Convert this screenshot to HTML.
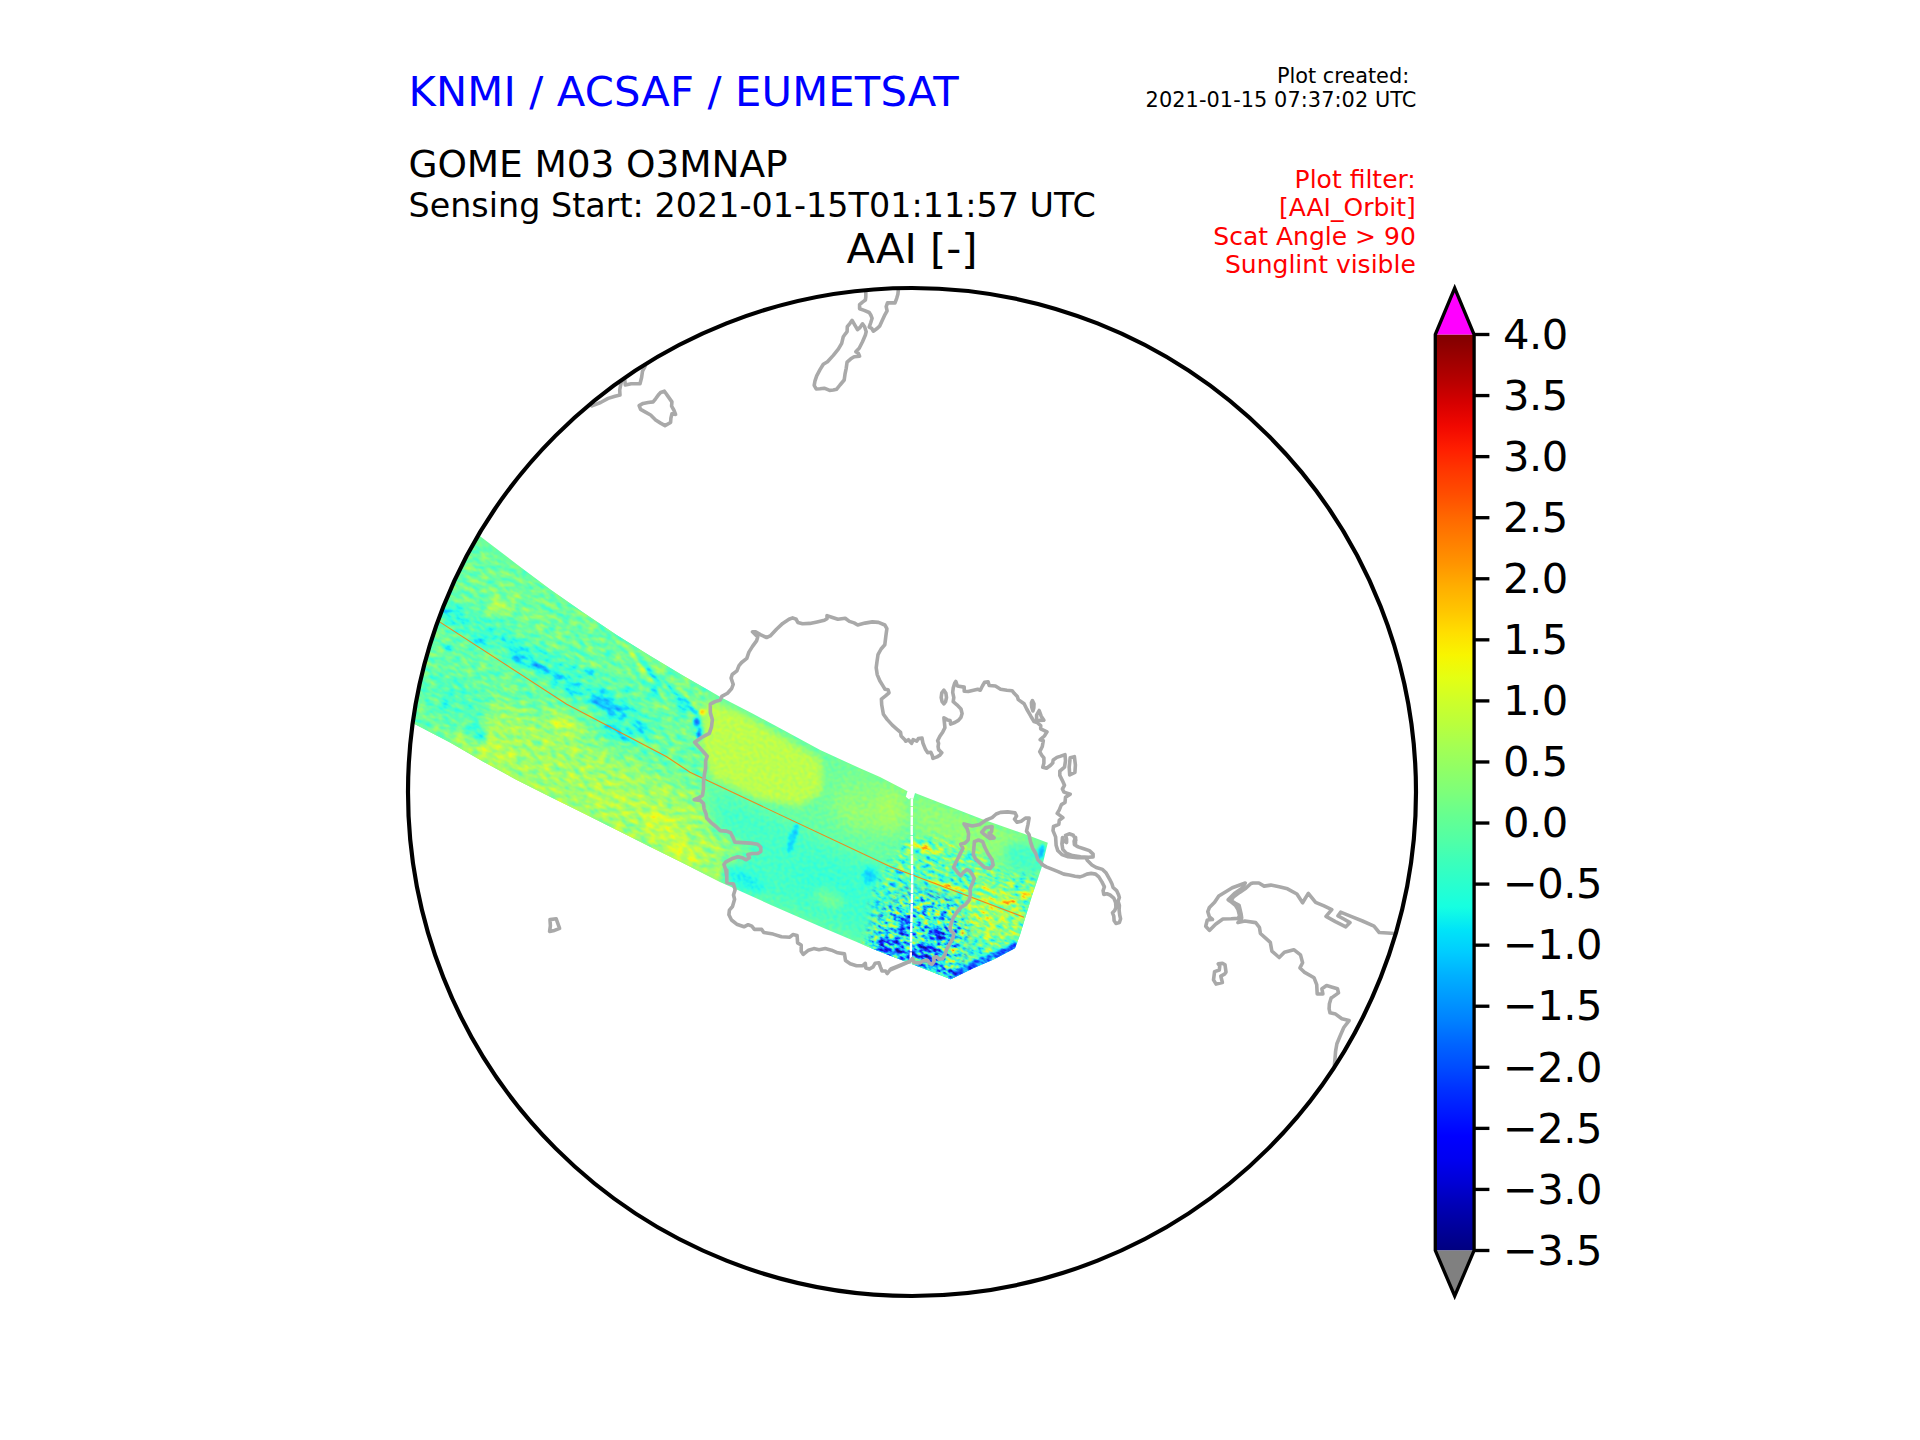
<!DOCTYPE html><html><head><meta charset="utf-8"><title>AAI plot</title>
<style>html,body{margin:0;padding:0;background:#fff}body{width:1920px;height:1440px;overflow:hidden}svg{display:block}text{font-family:"DejaVu Sans","Liberation Sans",sans-serif}</style>
</head><body>
<svg width="1920" height="1440" viewBox="0 0 1920 1440">
<defs>
<linearGradient id="jet" x1="0" y1="0" x2="0" y2="1"><stop offset="0.0000" stop-color="rgb(128,0,0)"/><stop offset="0.0250" stop-color="rgb(155,0,0)"/><stop offset="0.0500" stop-color="rgb(182,0,0)"/><stop offset="0.0750" stop-color="rgb(214,0,0)"/><stop offset="0.1000" stop-color="rgb(241,8,0)"/><stop offset="0.1250" stop-color="rgb(255,30,0)"/><stop offset="0.1500" stop-color="rgb(255,56,0)"/><stop offset="0.1750" stop-color="rgb(255,78,0)"/><stop offset="0.2000" stop-color="rgb(255,104,0)"/><stop offset="0.2250" stop-color="rgb(255,126,0)"/><stop offset="0.2500" stop-color="rgb(255,148,0)"/><stop offset="0.2750" stop-color="rgb(255,174,0)"/><stop offset="0.3000" stop-color="rgb(255,196,0)"/><stop offset="0.3250" stop-color="rgb(255,222,0)"/><stop offset="0.3500" stop-color="rgb(248,245,0)"/><stop offset="0.3750" stop-color="rgb(228,255,19)"/><stop offset="0.4000" stop-color="rgb(206,255,41)"/><stop offset="0.4250" stop-color="rgb(186,255,60)"/><stop offset="0.4500" stop-color="rgb(164,255,83)"/><stop offset="0.4750" stop-color="rgb(144,255,102)"/><stop offset="0.5000" stop-color="rgb(125,255,122)"/><stop offset="0.5250" stop-color="rgb(102,255,144)"/><stop offset="0.5500" stop-color="rgb(83,255,164)"/><stop offset="0.5750" stop-color="rgb(60,255,186)"/><stop offset="0.6000" stop-color="rgb(41,255,206)"/><stop offset="0.6250" stop-color="rgb(22,255,225)"/><stop offset="0.6500" stop-color="rgb(0,228,248)"/><stop offset="0.6750" stop-color="rgb(0,204,255)"/><stop offset="0.7000" stop-color="rgb(0,176,255)"/><stop offset="0.7250" stop-color="rgb(0,152,255)"/><stop offset="0.7500" stop-color="rgb(0,128,255)"/><stop offset="0.7750" stop-color="rgb(0,100,255)"/><stop offset="0.8000" stop-color="rgb(0,76,255)"/><stop offset="0.8250" stop-color="rgb(0,48,255)"/><stop offset="0.8500" stop-color="rgb(0,24,255)"/><stop offset="0.8750" stop-color="rgb(0,0,255)"/><stop offset="0.9000" stop-color="rgb(0,0,241)"/><stop offset="0.9250" stop-color="rgb(0,0,214)"/><stop offset="0.9500" stop-color="rgb(0,0,182)"/><stop offset="0.9750" stop-color="rgb(0,0,155)"/><stop offset="1.0000" stop-color="rgb(0,0,128)"/></linearGradient>
<clipPath id="circ"><circle cx="912" cy="792" r="504"/></clipPath>
<clipPath id="sw"><path d="M455.0,517.0 L480.8,536.7 L516.7,564.2 L550.0,589.2 L583.3,612.5 L616.7,635.0 L650.0,655.8 L683.3,675.8 L720.0,696.7 L752.5,713.5 L783.8,730.2 L820.2,750.0 L860.0,768.3 L880.0,777.1 L907.5,791.2 L905.8,796.7 L909.2,799.6 L910.0,798.3 L913.3,798.8 L915.0,793.1 L957.9,809.7 L981.7,819.0 L1023.3,833.5 L1047.8,842.8 L1042.5,865.0 L1031.7,896.7 L1020.0,935.0 L1015.0,948.3 L994.2,959.2 L973.3,968.3 L950.8,979.2 L912.5,964.2 L876.2,950.2 L824.2,928.3 L772.0,905.4 L720.0,882.0 L683.3,863.3 L650.0,846.7 L616.7,830.0 L583.3,813.3 L550.0,796.7 L516.7,780.0 L483.3,761.7 L450.0,742.5 L415.0,724.2 L395.0,713.7Z"/></clipPath>
<filter id="jfA" filterUnits="userSpaceOnUse" x="-200" y="-200" width="2400" height="2000" color-interpolation-filters="sRGB"><feTurbulence type="fractalNoise" baseFrequency="0.25 0.3" numOctaves="1" seed="7" result="n"/><feColorMatrix in="n" type="matrix" values="1 0 0 0 0 1 0 0 0 0 1 0 0 0 0 0 0 0 0 1" result="g"/><feComposite in="SourceGraphic" in2="g" operator="arithmetic" k1="0" k2="1" k3="0.100" k4="-0.050" result="v"/><feComponentTransfer in="v"><feFuncR type="table" tableValues="0.080 0.080 0.080 0.080 0.080 0.080 0.080 0.080 0.080 0.080 0.080 0.080 0.080 0.080 0.080 0.080 0.080 0.080 0.080 0.080 0.080 0.080 0.080 0.124 0.170 0.217 0.263 0.310 0.356 0.403 0.450 0.496 0.554 0.601 0.647 0.694 0.740 0.787 0.834 0.880 0.927 0.973 1.000 1.000 1.000 1.000 1.000 1.000 1.000 1.000 1.000 1.000 1.000 1.000 1.000 1.000 0.999 0.934 0.868 0.802 0.737 0.671 0.606 0.540"/><feFuncG type="table" tableValues="0.080 0.080 0.080 0.080 0.080 0.080 0.080 0.080 0.082 0.140 0.197 0.255 0.313 0.370 0.428 0.486 0.558 0.616 0.673 0.731 0.789 0.847 0.904 0.962 1.000 1.000 1.000 1.000 1.000 1.000 1.000 1.000 1.000 1.000 1.000 1.000 1.000 1.000 1.000 1.000 1.000 0.963 0.909 0.856 0.802 0.749 0.695 0.642 0.575 0.522 0.468 0.415 0.361 0.308 0.254 0.201 0.147 0.094 0.080 0.080 0.080 0.080 0.080 0.080"/><feFuncB type="table" tableValues="0.540 0.606 0.671 0.737 0.802 0.868 0.934 0.999 1.000 1.000 1.000 1.000 1.000 1.000 1.000 1.000 1.000 1.000 1.000 1.000 1.000 1.000 0.973 0.927 0.880 0.834 0.787 0.740 0.694 0.647 0.601 0.554 0.496 0.450 0.403 0.356 0.310 0.263 0.217 0.170 0.124 0.080 0.080 0.080 0.080 0.080 0.080 0.080 0.080 0.080 0.080 0.080 0.080 0.080 0.080 0.080 0.080 0.080 0.080 0.080 0.080 0.080 0.080 0.080"/></feComponentTransfer><feComposite in2="SourceGraphic" operator="in"/></filter>
<filter id="jfB" filterUnits="userSpaceOnUse" x="-200" y="-200" width="2400" height="2000" color-interpolation-filters="sRGB"><feTurbulence type="fractalNoise" baseFrequency="0.11 0.2" numOctaves="2" seed="11" result="n"/><feColorMatrix in="n" type="matrix" values="1 0 0 0 0 1 0 0 0 0 1 0 0 0 0 0 0 0 0 1" result="g"/><feComposite in="SourceGraphic" in2="g" operator="arithmetic" k1="0" k2="1" k3="0.250" k4="-0.125" result="v"/><feComponentTransfer in="v"><feFuncR type="table" tableValues="0.080 0.080 0.080 0.080 0.080 0.080 0.080 0.080 0.080 0.080 0.080 0.080 0.080 0.080 0.080 0.080 0.080 0.080 0.080 0.080 0.080 0.080 0.080 0.124 0.170 0.217 0.263 0.310 0.356 0.403 0.450 0.496 0.554 0.601 0.647 0.694 0.740 0.787 0.834 0.880 0.927 0.973 1.000 1.000 1.000 1.000 1.000 1.000 1.000 1.000 1.000 1.000 1.000 1.000 1.000 1.000 0.999 0.934 0.868 0.802 0.737 0.671 0.606 0.540"/><feFuncG type="table" tableValues="0.080 0.080 0.080 0.080 0.080 0.080 0.080 0.080 0.082 0.140 0.197 0.255 0.313 0.370 0.428 0.486 0.558 0.616 0.673 0.731 0.789 0.847 0.904 0.962 1.000 1.000 1.000 1.000 1.000 1.000 1.000 1.000 1.000 1.000 1.000 1.000 1.000 1.000 1.000 1.000 1.000 0.963 0.909 0.856 0.802 0.749 0.695 0.642 0.575 0.522 0.468 0.415 0.361 0.308 0.254 0.201 0.147 0.094 0.080 0.080 0.080 0.080 0.080 0.080"/><feFuncB type="table" tableValues="0.540 0.606 0.671 0.737 0.802 0.868 0.934 0.999 1.000 1.000 1.000 1.000 1.000 1.000 1.000 1.000 1.000 1.000 1.000 1.000 1.000 1.000 0.973 0.927 0.880 0.834 0.787 0.740 0.694 0.647 0.601 0.554 0.496 0.450 0.403 0.356 0.310 0.263 0.217 0.170 0.124 0.080 0.080 0.080 0.080 0.080 0.080 0.080 0.080 0.080 0.080 0.080 0.080 0.080 0.080 0.080 0.080 0.080 0.080 0.080 0.080 0.080 0.080 0.080"/></feComponentTransfer><feComposite in2="SourceGraphic" operator="in"/></filter>
<filter id="jfC" filterUnits="userSpaceOnUse" x="-200" y="-200" width="2400" height="2000" color-interpolation-filters="sRGB"><feTurbulence type="fractalNoise" baseFrequency="0.14 0.28" numOctaves="2" seed="5" result="n"/><feColorMatrix in="n" type="matrix" values="1 0 0 0 0 1 0 0 0 0 1 0 0 0 0 0 0 0 0 1" result="g"/><feComposite in="SourceGraphic" in2="g" operator="arithmetic" k1="0" k2="1" k3="0.550" k4="-0.275" result="v"/><feComponentTransfer in="v"><feFuncR type="table" tableValues="0.080 0.080 0.080 0.080 0.080 0.080 0.080 0.080 0.080 0.080 0.080 0.080 0.080 0.080 0.080 0.080 0.080 0.080 0.080 0.080 0.080 0.080 0.080 0.124 0.170 0.217 0.263 0.310 0.356 0.403 0.450 0.496 0.554 0.601 0.647 0.694 0.740 0.787 0.834 0.880 0.927 0.973 1.000 1.000 1.000 1.000 1.000 1.000 1.000 1.000 1.000 1.000 1.000 1.000 1.000 1.000 0.999 0.934 0.868 0.802 0.737 0.671 0.606 0.540"/><feFuncG type="table" tableValues="0.080 0.080 0.080 0.080 0.080 0.080 0.080 0.080 0.082 0.140 0.197 0.255 0.313 0.370 0.428 0.486 0.558 0.616 0.673 0.731 0.789 0.847 0.904 0.962 1.000 1.000 1.000 1.000 1.000 1.000 1.000 1.000 1.000 1.000 1.000 1.000 1.000 1.000 1.000 1.000 1.000 0.963 0.909 0.856 0.802 0.749 0.695 0.642 0.575 0.522 0.468 0.415 0.361 0.308 0.254 0.201 0.147 0.094 0.080 0.080 0.080 0.080 0.080 0.080"/><feFuncB type="table" tableValues="0.540 0.606 0.671 0.737 0.802 0.868 0.934 0.999 1.000 1.000 1.000 1.000 1.000 1.000 1.000 1.000 1.000 1.000 1.000 1.000 1.000 1.000 0.973 0.927 0.880 0.834 0.787 0.740 0.694 0.647 0.601 0.554 0.496 0.450 0.403 0.356 0.310 0.263 0.217 0.170 0.124 0.080 0.080 0.080 0.080 0.080 0.080 0.080 0.080 0.080 0.080 0.080 0.080 0.080 0.080 0.080 0.080 0.080 0.080 0.080 0.080 0.080 0.080 0.080"/></feComponentTransfer><feComposite in2="SourceGraphic" operator="in"/></filter>
<filter id="jfD" filterUnits="userSpaceOnUse" x="-200" y="-200" width="2400" height="2000" color-interpolation-filters="sRGB"><feTurbulence type="fractalNoise" baseFrequency="0.16 0.3" numOctaves="2" seed="9" result="n"/><feColorMatrix in="n" type="matrix" values="1 0 0 0 0 1 0 0 0 0 1 0 0 0 0 0 0 0 0 1" result="g"/><feComposite in="SourceGraphic" in2="g" operator="arithmetic" k1="0" k2="1" k3="1.000" k4="-0.500" result="v"/><feComponentTransfer in="v"><feFuncR type="table" tableValues="0.080 0.080 0.080 0.080 0.080 0.080 0.080 0.080 0.080 0.080 0.080 0.080 0.080 0.080 0.080 0.080 0.080 0.080 0.080 0.080 0.080 0.080 0.080 0.124 0.170 0.217 0.263 0.310 0.356 0.403 0.450 0.496 0.554 0.601 0.647 0.694 0.740 0.787 0.834 0.880 0.927 0.973 1.000 1.000 1.000 1.000 1.000 1.000 1.000 1.000 1.000 1.000 1.000 1.000 1.000 1.000 0.999 0.934 0.868 0.802 0.737 0.671 0.606 0.540"/><feFuncG type="table" tableValues="0.080 0.080 0.080 0.080 0.080 0.080 0.080 0.080 0.082 0.140 0.197 0.255 0.313 0.370 0.428 0.486 0.558 0.616 0.673 0.731 0.789 0.847 0.904 0.962 1.000 1.000 1.000 1.000 1.000 1.000 1.000 1.000 1.000 1.000 1.000 1.000 1.000 1.000 1.000 1.000 1.000 0.963 0.909 0.856 0.802 0.749 0.695 0.642 0.575 0.522 0.468 0.415 0.361 0.308 0.254 0.201 0.147 0.094 0.080 0.080 0.080 0.080 0.080 0.080"/><feFuncB type="table" tableValues="0.540 0.606 0.671 0.737 0.802 0.868 0.934 0.999 1.000 1.000 1.000 1.000 1.000 1.000 1.000 1.000 1.000 1.000 1.000 1.000 1.000 1.000 0.973 0.927 0.880 0.834 0.787 0.740 0.694 0.647 0.601 0.554 0.496 0.450 0.403 0.356 0.310 0.263 0.217 0.170 0.124 0.080 0.080 0.080 0.080 0.080 0.080 0.080 0.080 0.080 0.080 0.080 0.080 0.080 0.080 0.080 0.080 0.080 0.080 0.080 0.080 0.080 0.080 0.080"/></feComponentTransfer><feComposite in2="SourceGraphic" operator="in"/></filter>
<filter id="b1_5" x="-60%" y="-60%" width="220%" height="220%"><feGaussianBlur stdDeviation="1.5"/></filter>
<filter id="b3" x="-60%" y="-60%" width="220%" height="220%"><feGaussianBlur stdDeviation="3"/></filter>
<filter id="b5" x="-60%" y="-60%" width="220%" height="220%"><feGaussianBlur stdDeviation="5"/></filter>
<filter id="b8" x="-60%" y="-60%" width="220%" height="220%"><feGaussianBlur stdDeviation="8"/></filter>
<filter id="b14" x="-60%" y="-60%" width="220%" height="220%"><feGaussianBlur stdDeviation="14"/></filter>
<g id="fld">
<rect x="300" y="400" width="900" height="700" fill="#777777"/>
<path d="M440.0,735.0 L500.0,700.0 L600.0,748.0 L700.0,795.0 L716.0,830.0 L756.0,852.0 L724.0,868.0 L727.0,890.0 L600.0,840.0 L470.0,775.0 Z" fill="#888888" filter="url(#b8)" opacity="1.00"/>
<ellipse cx="662.0" cy="824.0" rx="22.0" ry="12.0" transform="rotate(27 662.0 824.0)" fill="#999999" filter="url(#b5)" opacity="1.00"/>
<ellipse cx="683.0" cy="851.0" rx="16.0" ry="9.0" transform="rotate(27 683.0 851.0)" fill="#9c9c9c" filter="url(#b5)" opacity="1.00"/>
<ellipse cx="564.0" cy="724.0" rx="18.0" ry="9.0" transform="rotate(27 564.0 724.0)" fill="#979797" filter="url(#b5)" opacity="1.00"/>
<ellipse cx="497.0" cy="750.0" rx="20.0" ry="8.0" transform="rotate(27 497.0 750.0)" fill="#949494" filter="url(#b5)" opacity="1.00"/>
<ellipse cx="620.0" cy="800.0" rx="30.0" ry="10.0" transform="rotate(27 620.0 800.0)" fill="#909090" filter="url(#b8)" opacity="1.00"/>
<ellipse cx="455.0" cy="700.0" rx="35.0" ry="22.0" transform="rotate(30 455.0 700.0)" fill="#6d6d6d" filter="url(#b8)" opacity="1.00"/>
<ellipse cx="475.0" cy="733.0" rx="14.0" ry="7.0" transform="rotate(27 475.0 733.0)" fill="#636363" filter="url(#b3)" opacity="1.00"/>
<ellipse cx="565.0" cy="676.0" rx="100.0" ry="11.0" transform="rotate(30 565.0 676.0)" fill="#646464" filter="url(#b8)" opacity="1.00"/>
<ellipse cx="455.0" cy="617.0" rx="18.0" ry="6.0" transform="rotate(30 455.0 617.0)" fill="#535353" filter="url(#b3)" opacity="1.00"/>
<ellipse cx="520.0" cy="657.0" rx="12.0" ry="6.0" transform="rotate(30 520.0 657.0)" fill="#525252" filter="url(#b3)" opacity="1.00"/>
<ellipse cx="611.0" cy="707.0" rx="22.0" ry="8.0" transform="rotate(30 611.0 707.0)" fill="#535353" filter="url(#b3)" opacity="1.00"/>
<ellipse cx="618.0" cy="733.0" rx="18.0" ry="7.0" transform="rotate(25 618.0 733.0)" fill="#5a5a5a" filter="url(#b3)" opacity="1.00"/>
<ellipse cx="573.0" cy="688.0" rx="8.0" ry="5.0" transform="rotate(30 573.0 688.0)" fill="#525252" filter="url(#b3)" opacity="1.00"/>
<ellipse cx="640.0" cy="728.0" rx="12.0" ry="6.0" transform="rotate(30 640.0 728.0)" fill="#585858" filter="url(#b3)" opacity="1.00"/>
<ellipse cx="520.0" cy="605.0" rx="60.0" ry="12.0" transform="rotate(35 520.0 605.0)" fill="#7c7c7c" filter="url(#b8)" opacity="1.00"/>
<ellipse cx="498.4" cy="607.5" rx="7.0" ry="6.0" transform="rotate(0 498.4 607.5)" fill="#9c9c9c" filter="url(#b3)" opacity="1.00"/>
<ellipse cx="640.0" cy="665.0" rx="22.0" ry="2.2" transform="rotate(52 640.0 665.0)" fill="#969696" filter="url(#b1_5)" opacity="1.00"/>
<ellipse cx="650.0" cy="672.0" rx="22.0" ry="2.2" transform="rotate(52 650.0 672.0)" fill="#555555" filter="url(#b1_5)" opacity="1.00"/>
<ellipse cx="662.0" cy="676.0" rx="22.0" ry="2.2" transform="rotate(52 662.0 676.0)" fill="#929292" filter="url(#b1_5)" opacity="1.00"/>
<ellipse cx="672.0" cy="690.0" rx="22.0" ry="2.2" transform="rotate(52 672.0 690.0)" fill="#525252" filter="url(#b1_5)" opacity="1.00"/>
<ellipse cx="684.0" cy="694.0" rx="22.0" ry="2.2" transform="rotate(52 684.0 694.0)" fill="#969696" filter="url(#b1_5)" opacity="1.00"/>
<ellipse cx="692.0" cy="708.0" rx="22.0" ry="2.2" transform="rotate(52 692.0 708.0)" fill="#585858" filter="url(#b1_5)" opacity="1.00"/>
<ellipse cx="703.0" cy="713.0" rx="4.0" ry="3.0" transform="rotate(0 703.0 713.0)" fill="#c2c2c2" filter="url(#b1_5)" opacity="1.00"/>
<ellipse cx="701.0" cy="733.0" rx="4.0" ry="7.0" transform="rotate(10 701.0 733.0)" fill="#252525" filter="url(#b1_5)" opacity="1.00"/>
<ellipse cx="697.0" cy="722.0" rx="4.0" ry="4.0" transform="rotate(0 697.0 722.0)" fill="#414141" filter="url(#b1_5)" opacity="1.00"/>
<path d="M706.0,700.0 L740.0,712.0 L822.0,760.0 L823.0,792.0 L800.0,806.0 L760.0,800.0 L712.0,778.0 L700.0,740.0 Z" fill="#929292" filter="url(#b3)" opacity="1.00"/>
<ellipse cx="860.0" cy="810.0" rx="24.0" ry="16.0" transform="rotate(25 860.0 810.0)" fill="#8a8a8a" filter="url(#b8)" opacity="1.00"/>
<ellipse cx="870.0" cy="800.0" rx="40.0" ry="22.0" transform="rotate(25 870.0 800.0)" fill="#818181" filter="url(#b14)" opacity="1.00"/>
<path d="M712.0,790.0 L790.0,825.0 L880.0,868.0 L905.0,880.0 L905.0,955.0 L830.0,925.0 L735.0,885.0 L726.0,866.0 L756.0,852.0 L716.0,828.0 Z" fill="#6b6b6b" filter="url(#b8)" opacity="1.00"/>
<ellipse cx="830.0" cy="885.0" rx="40.0" ry="18.0" transform="rotate(25 830.0 885.0)" fill="#666666" filter="url(#b8)" opacity="1.00"/>
<ellipse cx="829.0" cy="899.0" rx="16.0" ry="8.0" transform="rotate(25 829.0 899.0)" fill="#7a7a7a" filter="url(#b5)" opacity="1.00"/>
<ellipse cx="793.0" cy="838.0" rx="4.0" ry="16.0" transform="rotate(18 793.0 838.0)" fill="#555555" filter="url(#b1_5)" opacity="1.00"/>
<ellipse cx="870.0" cy="876.0" rx="7.0" ry="9.0" transform="rotate(0 870.0 876.0)" fill="#4e4e4e" filter="url(#b3)" opacity="1.00"/>
<ellipse cx="745.0" cy="880.0" rx="22.0" ry="8.0" transform="rotate(25 745.0 880.0)" fill="#5c5c5c" filter="url(#b5)" opacity="1.00"/>
<path d="M915.0,795.0 L1047.0,845.0 L1040.0,870.0 L960.0,850.0 L915.0,830.0 Z" fill="#838383" filter="url(#b5)" opacity="1.00"/>
<ellipse cx="1025.0" cy="858.0" rx="22.0" ry="14.0" transform="rotate(20 1025.0 858.0)" fill="#6b6b6b" filter="url(#b5)" opacity="1.00"/>
<ellipse cx="1041.0" cy="852.0" rx="3.5" ry="8.0" transform="rotate(15 1041.0 852.0)" fill="#4e4e4e" filter="url(#b1_5)" opacity="1.00"/>
<ellipse cx="890.0" cy="810.0" rx="14.0" ry="22.0" transform="rotate(0 890.0 810.0)" fill="#8b8b8b" filter="url(#b8)" opacity="1.00"/>
<ellipse cx="940.0" cy="915.0" rx="70.0" ry="40.0" transform="rotate(20 940.0 915.0)" fill="#696969" filter="url(#b14)" opacity="1.00"/>
<ellipse cx="992.0" cy="912.0" rx="28.0" ry="30.0" transform="rotate(15 992.0 912.0)" fill="#8a8a8a" filter="url(#b8)" opacity="1.00"/>
<ellipse cx="893.0" cy="950.0" rx="16.0" ry="8.0" transform="rotate(20 893.0 950.0)" fill="#333333" filter="url(#b3)" opacity="1.00"/>
<ellipse cx="927.0" cy="952.0" rx="14.0" ry="7.0" transform="rotate(15 927.0 952.0)" fill="#252525" filter="url(#b3)" opacity="1.00"/>
<ellipse cx="940.0" cy="935.0" rx="14.0" ry="6.0" transform="rotate(15 940.0 935.0)" fill="#2c2c2c" filter="url(#b3)" opacity="1.00"/>
<ellipse cx="905.0" cy="925.0" rx="8.0" ry="14.0" transform="rotate(15 905.0 925.0)" fill="#414141" filter="url(#b3)" opacity="1.00"/>
<path d="M948.0,982.0 L1018.0,948.0 L1015.0,942.0 L946.0,974.0 Z" fill="#252525" filter="url(#b1_5)" opacity="0.80"/>
<path d="M875.0,944.0 L912.0,960.0 L950.0,978.0 L948.0,968.0 L912.0,950.0 L878.0,934.0 Z" fill="#3a3a3a" filter="url(#b3)" opacity="1.00"/>
<ellipse cx="947.0" cy="886.0" rx="22.0" ry="1.8" transform="rotate(18 947.0 886.0)" fill="#c2c2c2" filter="url(#b1_5)" opacity="1.00"/>
<ellipse cx="1027.0" cy="895.5" rx="4.0" ry="3.0" transform="rotate(0 1027.0 895.5)" fill="#c2c2c2" filter="url(#b1_5)" opacity="1.00"/>
<ellipse cx="1008.0" cy="902.0" rx="9.0" ry="1.6" transform="rotate(-10 1008.0 902.0)" fill="#bbbbbb" filter="url(#b1_5)" opacity="1.00"/>
<ellipse cx="925.0" cy="848.0" rx="16.0" ry="2.0" transform="rotate(15 925.0 848.0)" fill="#b4b4b4" filter="url(#b1_5)" opacity="1.00"/>
<ellipse cx="472.0" cy="626.0" rx="30.0" ry="12.0" transform="rotate(30 472.0 626.0)" fill="#686868" filter="url(#b8)" opacity="1.00"/>
<ellipse cx="481.0" cy="643.0" rx="7.0" ry="4.0" transform="rotate(30 481.0 643.0)" fill="#525252" filter="url(#b1_5)" opacity="1.00"/>
<ellipse cx="540.0" cy="668.0" rx="10.0" ry="4.0" transform="rotate(30 540.0 668.0)" fill="#525252" filter="url(#b1_5)" opacity="1.00"/>
<ellipse cx="557.0" cy="677.0" rx="6.0" ry="4.0" transform="rotate(30 557.0 677.0)" fill="#555555" filter="url(#b1_5)" opacity="1.00"/>
<ellipse cx="598.0" cy="701.0" rx="8.0" ry="4.0" transform="rotate(30 598.0 701.0)" fill="#525252" filter="url(#b1_5)" opacity="1.00"/>
<ellipse cx="655.0" cy="692.0" rx="8.0" ry="3.5" transform="rotate(50 655.0 692.0)" fill="#585858" filter="url(#b1_5)" opacity="1.00"/>
<ellipse cx="682.0" cy="708.0" rx="8.0" ry="3.5" transform="rotate(50 682.0 708.0)" fill="#555555" filter="url(#b1_5)" opacity="1.00"/>
<ellipse cx="447.0" cy="648.0" rx="6.0" ry="3.0" transform="rotate(30 447.0 648.0)" fill="#585858" filter="url(#b1_5)" opacity="1.00"/>
<ellipse cx="505.0" cy="640.0" rx="6.0" ry="3.0" transform="rotate(60 505.0 640.0)" fill="#585858" filter="url(#b1_5)" opacity="1.00"/>
<ellipse cx="590.0" cy="672.0" rx="6.0" ry="3.0" transform="rotate(30 590.0 672.0)" fill="#5c5c5c" filter="url(#b1_5)" opacity="1.00"/>
<ellipse cx="628.0" cy="690.0" rx="5.0" ry="3.0" transform="rotate(30 628.0 690.0)" fill="#585858" filter="url(#b1_5)" opacity="1.00"/>
</g>
<mask id="mB" maskUnits="userSpaceOnUse" x="300" y="400" width="900" height="700"><path d="M380,480 L712,690 L706,705 L703,735 L695,742 L708,760 L703,790 L696,800 L706,815 L716,828 L736,842 L758,852 L724,866 L727,884 L380,760 Z" fill="#fff" filter="url(#b3)"/></mask>
<mask id="mC" maskUnits="userSpaceOnUse" x="300" y="400" width="900" height="700"><path d="M872,900 L885,868 L905,840 L935,835 L975,850 L1005,870 L1050,880 L1030,960 L950,990 L865,960 Z" fill="#fff" filter="url(#b5)"/></mask>
<mask id="mD" maskUnits="userSpaceOnUse" x="300" y="400" width="900" height="700"><path d="M870,930 L885,905 L912,888 L950,898 L968,925 L965,958 L950,995 L860,960 Z" fill="#fff" filter="url(#b5)"/></mask>
</defs>
<rect width="1920" height="1440" fill="#fff"/>
<g clip-path="url(#circ)">
<g clip-path="url(#sw)">
<g><g transform="rotate(25 700 750)" filter="url(#jfA)"><g transform="rotate(-25 700 750)"><use href="#fld"/></g></g></g>
<g mask="url(#mB)"><g transform="rotate(25 700 750)" filter="url(#jfB)"><g transform="rotate(-25 700 750)"><use href="#fld"/></g></g></g>
<g mask="url(#mC)"><g transform="rotate(25 700 750)" filter="url(#jfC)"><g transform="rotate(-25 700 750)"><use href="#fld"/></g></g></g>
<g mask="url(#mD)"><g transform="rotate(25 700 750)" filter="url(#jfD)"><g transform="rotate(-25 700 750)"><use href="#fld"/></g></g></g>
<path d="M440,622.1 L566.7,704.2 L666.7,756.7 L690,772.3 L890,866.6 L1024,917.2" fill="none" stroke="#ff7a0a" stroke-width="1.1" opacity="0.9"/>
<path d="M911.9,797 L911.7,830 L912.2,880 L910.6,966" fill="none" stroke="#fff" stroke-width="2.4" stroke-dasharray="9 0.7"/>
</g>
<g fill="none" stroke="#a9a9a9" stroke-width="3.6" stroke-linejoin="round" stroke-linecap="round">
<path d="M852.1,320.4 L855.0,325.4 L857.5,329.6 L860.0,327.5 L862.5,323.8 L864.6,326.7 L866.2,331.7 L865.4,335.0 L862.5,341.7 L859.2,348.3 L855.8,351.7 L858.3,353.3 L859.6,356.2 L854.2,356.7 L850.8,358.8 L847.1,362.1 L846.2,368.3 L845.0,374.2 L844.2,380.0 L840.0,385.0 L836.7,389.2 L833.3,390.0 L829.6,390.4 L826.7,389.2 L824.2,388.2 L820.0,388.8 L816.2,389.0 L814.2,385.4 L815.0,380.8 L816.7,375.8 L820.0,369.6 L823.3,364.2 L827.5,361.7 L833.3,355.4 L838.3,349.2 L841.7,343.3 L843.3,336.7 L845.4,333.8 L847.1,331.7 L847.3,326.7 L850.0,323.3Z"/>
<path d="M865.8,290.0 L865.8,296.7 L865.4,300.0 L862.5,302.1 L859.6,304.6 L859.6,308.8 L864.2,310.4 L869.2,312.5 L870.8,315.0 L872.1,318.3 L870.8,322.5 L869.2,327.1 L871.7,328.3 L873.3,331.2 L876.7,328.8 L879.6,326.2 L882.1,320.8 L885.0,314.6 L887.1,310.8 L886.2,306.7 L887.5,302.9 L891.7,302.9 L895.0,302.9 L896.7,298.3 L897.9,294.2 L898.5,288.3"/>
<path d="M591.9,405.9 L600.6,402.5 L608.1,398.4 L615.0,396.2 L620.0,395.0 L619.7,390.0 L620.9,383.8 L621.6,381.2"/>
<path d="M624.7,379.4 L625.3,385.0 L631.2,383.8 L640.0,383.8 L641.6,377.5 L642.5,371.2 L645.3,365.9"/>
<path d="M664.4,391.2 L667.5,395.6 L671.9,401.9 L671.6,406.2 L673.8,410.0 L675.6,414.4 L671.9,413.8 L670.9,418.1 L670.6,422.5 L665.0,425.6 L660.6,423.1 L655.6,420.0 L650.6,415.0 L645.0,411.9 L640.6,409.4 L639.1,405.6 L643.1,403.4 L648.1,402.5 L653.1,401.9 L655.6,398.8 L658.8,394.4 L660.6,392.5Z"/>
<path d="M694.7,742.2 L701.5,737.5 L709.3,733.3 L711.4,727.1 L712.4,719.8 L710.3,712.5 L710.3,704.2 L715.0,701.6 L720.2,700.0 L721.8,696.4 L727.5,693.2 L731.7,688.5 L733.2,684.4 L731.1,678.1 L732.2,674.5 L736.9,670.8 L739.0,665.6 L741.6,662.5 L746.8,658.3 L748.9,652.1 L752.5,646.4 L756.7,640.6 L757.7,637.0 L752.5,631.8 L755.6,631.8 L760.8,634.9 L766.6,637.5 L770.2,635.9 L776.5,629.2 L782.7,623.4 L789.0,619.3 L792.6,617.9 L796.2,619.3 L797.8,622.4 L802.5,623.8 L809.8,623.4 L817.1,621.9 L824.4,620.3 L827.0,618.8 L827.0,615.6 L831.7,617.2 L837.9,619.3 L845.2,618.2 L849.4,621.4 L854.1,622.9 L857.7,625.0 L865.0,623.1 L872.3,621.9 L878.5,622.4 L884.8,625.0 L886.9,628.6 L885.8,636.5 L884.8,644.8 L881.1,649.0 L878.0,654.7 L877.0,661.5 L876.2,667.7 L877.2,674.6 L879.8,680.8 L883.4,686.6 L885.0,689.2 L888.1,689.7 L889.0,692.8 L885.5,695.9 L881.4,699.1 L881.7,704.8 L883.4,714.2 L887.1,719.4 L892.3,725.1 L896.5,728.8 L900.6,732.4 L901.1,736.0 L904.8,739.7 L905.8,741.2 L908.4,739.7 L911.6,743.3 L913.1,739.7 L916.8,741.2 L918.3,738.6 L922.0,738.1 L923.0,743.3 L925.6,749.6 L927.7,752.7 L930.8,752.2 L932.4,755.8 L932.9,758.4 L937.1,756.9 L939.7,755.3 L941.8,752.7 L938.6,749.6 L938.1,746.5 L938.6,743.3 L937.6,740.7 L939.7,736.6 L942.8,731.9 L944.9,727.7 L944.4,722.5 L943.9,717.8 L947.5,719.9 L950.1,720.4 L950.6,724.1 L954.8,722.5 L958.4,720.4 L961.0,717.3 L962.1,713.6 L961.0,709.0 L956.9,704.8 L953.2,701.7 L953.8,697.5 L952.7,692.3 L953.2,688.1 L954.8,682.9 L955.8,681.4 L957.4,686.0 L964.2,687.1 L964.2,691.2 L968.3,691.5 L973.5,690.2 L977.7,689.2 L980.3,690.2 L982.4,686.0 L984.5,682.4 L988.1,681.9 L989.2,685.5 L995.4,686.0 L1000.6,689.2 L1006.9,690.2 L1012.1,690.7 L1014.2,693.3 L1017.3,696.5 L1018.3,699.6 L1024.1,703.8 L1026.7,709.0 L1030.8,716.2 L1034.0,721.5 L1037.1,722.5 L1040.7,725.6 L1040.7,728.8 L1047.0,731.9 L1044.4,736.0 L1040.2,739.7 L1043.3,740.7 L1042.3,746.5 L1039.7,751.7 L1041.8,755.3 L1043.9,757.9 L1043.9,763.1 L1042.8,767.3 L1046.5,768.3 L1050.6,765.2 L1052.7,763.1 L1053.2,760.0 L1056.9,757.4 L1060.0,756.4 L1065.0,754.6 L1065.5,760.8 L1064.5,767.1 L1059.8,771.2 L1059.8,775.4 L1062.4,780.6 L1064.5,785.3 L1062.4,789.0 L1064.0,792.1 L1070.2,794.2 L1065.5,797.3 L1065.0,802.5 L1061.4,804.6 L1059.3,809.8 L1057.2,813.4 L1062.9,817.6 L1059.3,820.2 L1058.8,824.4 L1053.5,826.5 L1053.0,830.6 L1055.6,836.9 L1056.1,845.2 L1057.7,850.4 L1061.9,854.6 L1068.1,856.7 L1077.5,857.7 L1085.8,857.7 L1087.5,860.6 L1091.9,865.0 L1096.2,867.5 L1102.5,869.4 L1106.2,873.1 L1109.4,878.8 L1111.9,883.8 L1113.1,887.5 L1116.6,890.6 L1118.4,894.4 L1119.4,897.5 L1118.1,901.2 L1119.4,905.6 L1119.1,910.0 L1119.7,915.0 L1120.6,918.8 L1119.4,922.5 L1115.9,923.4 L1114.1,920.6 L1113.8,916.2 L1112.5,912.8 L1114.7,910.6 L1115.9,907.5 L1115.6,902.5 L1113.8,898.1 L1110.0,895.0 L1106.9,893.8 L1103.8,894.4 L1103.1,890.6 L1104.4,886.9 L1101.9,881.9 L1098.8,876.9 L1095.6,874.1 L1091.2,873.4 L1086.9,874.1 L1083.1,875.9 L1080.0,876.9 L1075.0,876.2 L1069.4,875.0 L1063.8,874.1 L1058.1,871.6 L1052.5,869.4 L1046.2,866.9 L1041.9,864.4 L1043.1,865.0 L1037.9,859.8 L1035.8,853.5 L1032.7,848.3 L1030.6,842.1 L1029.1,834.8 L1026.5,831.1 L1028.0,824.4 L1029.1,818.1 L1025.4,818.1 L1021.2,821.2 L1017.1,822.3 L1014.5,819.2 L1016.6,816.0 L1015.0,812.9 L1007.7,811.9 L1000.4,812.4 L996.2,814.0 L992.1,817.6 L985.8,820.2 L979.6,824.4 L972.3,825.9 L964.0,823.9 L967.1,828.5 L968.6,833.8 L968.1,840.0 L965.0,843.1 L960.8,844.2 L962.9,848.3 L959.8,854.6 L956.7,860.8 L953.5,867.6 L955.8,870.0 L958.3,873.3 L960.8,875.8 L963.3,872.5 L966.7,869.6 L969.2,870.4 L972.1,874.2 L974.2,878.3 L972.5,883.3 L970.0,889.2 L970.4,895.0 L969.2,900.0 L965.8,904.2 L960.8,907.5 L956.7,912.5 L953.3,917.5 L951.2,923.3 L950.0,927.5 L950.8,930.8 L953.8,933.3 L952.9,938.3 L950.0,943.3 L946.7,949.2 L945.0,954.2 L942.5,958.8 L939.2,959.2 L936.7,956.7 L933.8,957.5 L934.2,961.2 L932.1,964.2 L929.6,963.3 L927.5,960.4 L923.3,960.8 L920.0,962.9 L914.2,962.5 L912.5,958.3 L910.8,960.8 L900.8,965.0 L890.0,970.0 L909.6,961.7 L903.3,963.8 L897.1,966.4 L890.8,969.0 L887.2,973.6 L885.6,971.0 L882.0,971.0 L880.4,966.9 L878.9,962.7 L875.2,963.2 L873.1,966.9 L869.5,969.0 L865.8,967.9 L865.3,963.2 L862.7,965.8 L856.5,965.8 L850.2,963.8 L845.5,960.6 L844.5,953.9 L837.7,952.8 L831.5,950.2 L825.2,948.6 L819.0,949.7 L813.8,948.6 L808.5,950.2 L803.3,954.4 L801.2,951.2 L801.2,945.0 L797.6,942.9 L797.1,935.6 L792.9,934.6 L789.8,937.2 L781.5,936.7 L773.1,934.1 L763.8,932.5 L761.7,929.4 L754.4,929.4 L751.8,926.2 L748.1,924.7 L744.0,926.8 L736.7,924.2 L731.5,920.0 L728.9,914.8 L729.4,910.1 L732.5,906.5 L734.6,899.2 L733.5,895.0 L735.1,889.8 L733.5,884.1 L726.8,882.5 L726.8,870.0 L726.5,875.4 L725.9,870.2 L723.9,864.5 L725.9,861.9 L731.7,858.8 L737.9,856.7 L742.1,857.7 L746.2,859.8 L749.4,857.7 L747.8,854.6 L752.5,853.5 L757.7,853.5 L760.8,851.5 L760.8,847.3 L757.7,844.2 L750.4,843.1 L742.1,842.6 L734.8,842.1 L733.2,837.9 L730.6,832.7 L726.5,831.1 L720.2,830.6 L716.0,826.5 L710.8,822.3 L706.7,818.1 L706.1,814.0 L704.1,808.8 L703.5,803.5 L700.4,800.4 L694.2,799.6 L698.9,797.8 L702.5,795.2 L703.5,789.0 L703.5,781.7 L704.6,773.3 L705.6,768.1 L705.6,760.8 L707.2,756.1 L703.5,752.0 L698.3,746.2Z"/>
<path d="M1062.5,837.5 L1061.9,843.8 L1062.8,849.4 L1066.2,853.1 L1072.5,855.6 L1080.6,856.8 L1088.8,857.2 L1093.1,856.9 L1093.1,854.1 L1089.4,850.6 L1083.8,848.8 L1078.1,846.9 L1074.4,844.7 L1074.1,841.2 L1075.6,837.5 L1075.4,845.2 L1074.4,842.1 L1075.9,840.0 L1073.3,835.3 L1069.2,833.8 L1065.5,835.3 L1066.6,839.0 L1066.6,842.6 L1063.4,840.0 L1061.9,844.2Z"/>
<path d="M981.7,832.2 L985.8,827.5 L992.1,826.5 L991.6,831.7 L989.0,833.2 L994.2,837.9 L990.0,838.4 L984.8,834.8Z"/>
<path d="M974.4,841.6 L978.5,840.0 L982.7,841.6 L984.8,847.3 L987.9,853.5 L992.1,859.8 L993.1,865.0 L990.0,868.6 L984.8,867.6 L979.6,862.9 L975.4,858.8 L973.3,854.6 L973.9,847.3Z"/>
<path d="M943.9,690.2 L945.9,693.3 L946.5,697.5 L945.6,701.7 L943.9,703.8 L942.1,701.7 L941.2,697.5 L941.8,692.8Z"/>
<path d="M1032.4,700.6 L1034.0,703.8 L1033.8,707.9 L1032.9,711.0 L1031.7,706.9 L1031.4,702.7Z"/>
<path d="M1039.2,710.5 L1041.2,716.2 L1043.9,720.2 L1039.2,720.4 L1036.6,719.9 L1036.6,715.2Z"/>
<path d="M1070.2,757.7 L1074.4,756.7 L1075.4,765.0 L1074.9,772.3 L1069.7,774.9 L1069.2,767.1Z"/>
<path d="M550.0,919.6 L556.2,918.8 L559.6,928.3 L553.3,930.8 L549.6,931.5 L550.4,925.8Z"/>
<path d="M1245.3,883.0 L1232.3,887.7 L1218.8,896.0 L1214.6,902.3 L1209.4,907.5 L1207.8,911.7 L1209.4,916.9 L1212.5,919.5 L1207.3,920.0 L1205.7,926.2 L1209.4,930.4 L1215.6,924.2 L1222.9,919.0 L1231.2,918.8 L1238.0,918.4 L1239.6,915.8 L1238.0,909.6 L1235.4,905.4 L1230.2,901.2 L1228.1,899.7 L1234.4,893.4 L1242.7,887.7Z"/>
<path d="M1397.9,933.8 L1387.5,933.0 L1379.2,932.5 L1374.0,926.2 L1362.5,921.0 L1351.0,916.4 L1340.6,912.2 L1338.0,915.8 L1343.8,919.0 L1350.0,922.6 L1345.8,926.8 L1335.4,921.6 L1326.0,916.4 L1331.8,909.6 L1324.0,905.9 L1315.6,902.3 L1308.3,893.4 L1302.6,902.8 L1296.9,894.0 L1287.5,888.8 L1279.2,886.7 L1270.8,885.1 L1264.1,886.1 L1258.9,883.0 L1253.1,883.0 L1251.0,883.5 L1245.8,888.2 L1239.6,892.4 L1233.3,897.1 L1231.2,900.7 L1235.4,903.3 L1239.1,905.4 L1241.1,913.8 L1241.7,917.9 L1238.0,922.6 L1244.8,921.0 L1255.7,922.6 L1259.4,927.3 L1260.4,933.5 L1265.6,938.2 L1270.3,942.4 L1271.9,951.2 L1279.2,957.5 L1284.4,952.3 L1293.8,949.7 L1300.5,954.9 L1302.6,962.7 L1300.0,967.9 L1304.2,972.1 L1314.1,977.8 L1316.7,984.6 L1317.2,994.0 L1322.9,994.0 L1321.9,988.8 L1326.6,985.6 L1332.3,987.2 L1337.5,988.8 L1338.5,992.9 L1331.2,998.1 L1331.2,997.8 L1329.4,1003.8 L1329.1,1008.8 L1330.0,1012.8 L1335.6,1014.1 L1341.9,1018.8 L1349.1,1020.6 L1343.8,1027.5 L1340.0,1036.2 L1336.9,1043.8 L1335.6,1051.2 L1335.0,1058.8 L1334.4,1065.0"/>
<path d="M1218.2,963.8 L1222.4,963.2 L1225.0,964.8 L1226.0,972.1 L1224.5,974.2 L1220.8,976.2 L1222.4,982.5 L1216.1,984.1 L1213.5,979.9 L1214.6,971.6 L1219.3,970.0 L1219.8,965.8Z"/>
</g>
</g>
<circle cx="912" cy="792" r="504" fill="none" stroke="#000" stroke-width="4.17"/>
<text x="408.50" y="106.40" font-size="41.67" fill="#0000ff" text-anchor="start" textLength="550.15" lengthAdjust="spacing" xml:space="preserve">KNMI / ACSAF / EUMETSAT</text>
<text x="408.50" y="177.20" font-size="37.50" fill="#000" text-anchor="start" textLength="379.09" lengthAdjust="spacing" xml:space="preserve">GOME M03 O3MNAP</text>
<text x="408.50" y="216.70" font-size="33.33" fill="#000" text-anchor="start" textLength="687.24" lengthAdjust="spacing" xml:space="preserve">Sensing Start: 2021-01-15T01:11:57 UTC</text>
<text x="912.00" y="263.20" font-size="41.67" fill="#000" text-anchor="middle" xml:space="preserve">AAI [-]</text>
<text x="1415.80" y="82.80" font-size="20.83" fill="#000" text-anchor="end" xml:space="preserve">Plot created: </text>
<text x="1416.40" y="107.00" font-size="20.83" fill="#000" text-anchor="end" textLength="270.80" lengthAdjust="spacing" xml:space="preserve">2021-01-15 07:37:02 UTC</text>
<text x="1415.80" y="188.30" font-size="25.00" fill="#ff0000" text-anchor="end" xml:space="preserve">Plot filter:</text>
<text x="1415.80" y="216.40" font-size="25.00" fill="#ff0000" text-anchor="end" xml:space="preserve">[AAI_Orbit]</text>
<text x="1415.80" y="244.50" font-size="25.00" fill="#ff0000" text-anchor="end" xml:space="preserve">Scat Angle &gt; 90</text>
<text x="1415.80" y="272.60" font-size="25.00" fill="#ff0000" text-anchor="end" xml:space="preserve">Sunglint visible</text>
<rect x="1435.30" y="334.50" width="38.80" height="916.00" fill="url(#jet)"/>
<polygon points="1435.30,334.50 1454.70,288.00 1474.10,334.50" fill="#ff00ff"/>
<polygon points="1435.30,1250.50 1454.70,1296.00 1474.10,1250.50" fill="#808080"/>
<polygon points="1435.30,334.50 1454.70,288.00 1474.10,334.50 1474.10,1250.50 1454.70,1296.00 1435.30,1250.50" fill="none" stroke="#000" stroke-width="3.33" stroke-linejoin="miter" stroke-miterlimit="10"/>
<line x1="1474.10" y1="334.50" x2="1489.40" y2="334.50" stroke="#000" stroke-width="3.33"/>
<text x="1502.90" y="348.70" font-size="41.67" fill="#000" text-anchor="start" textLength="65.27" lengthAdjust="spacing" xml:space="preserve">4.0</text>
<line x1="1474.10" y1="395.57" x2="1489.40" y2="395.57" stroke="#000" stroke-width="3.33"/>
<text x="1502.90" y="409.77" font-size="41.67" fill="#000" text-anchor="start" textLength="65.27" lengthAdjust="spacing" xml:space="preserve">3.5</text>
<line x1="1474.10" y1="456.63" x2="1489.40" y2="456.63" stroke="#000" stroke-width="3.33"/>
<text x="1502.90" y="470.83" font-size="41.67" fill="#000" text-anchor="start" textLength="65.27" lengthAdjust="spacing" xml:space="preserve">3.0</text>
<line x1="1474.10" y1="517.70" x2="1489.40" y2="517.70" stroke="#000" stroke-width="3.33"/>
<text x="1502.90" y="531.90" font-size="41.67" fill="#000" text-anchor="start" textLength="65.27" lengthAdjust="spacing" xml:space="preserve">2.5</text>
<line x1="1474.10" y1="578.77" x2="1489.40" y2="578.77" stroke="#000" stroke-width="3.33"/>
<text x="1502.90" y="592.97" font-size="41.67" fill="#000" text-anchor="start" textLength="65.27" lengthAdjust="spacing" xml:space="preserve">2.0</text>
<line x1="1474.10" y1="639.83" x2="1489.40" y2="639.83" stroke="#000" stroke-width="3.33"/>
<text x="1502.90" y="654.03" font-size="41.67" fill="#000" text-anchor="start" textLength="65.27" lengthAdjust="spacing" xml:space="preserve">1.5</text>
<line x1="1474.10" y1="700.90" x2="1489.40" y2="700.90" stroke="#000" stroke-width="3.33"/>
<text x="1502.90" y="715.10" font-size="41.67" fill="#000" text-anchor="start" textLength="65.27" lengthAdjust="spacing" xml:space="preserve">1.0</text>
<line x1="1474.10" y1="761.97" x2="1489.40" y2="761.97" stroke="#000" stroke-width="3.33"/>
<text x="1502.90" y="776.17" font-size="41.67" fill="#000" text-anchor="start" textLength="65.27" lengthAdjust="spacing" xml:space="preserve">0.5</text>
<line x1="1474.10" y1="823.03" x2="1489.40" y2="823.03" stroke="#000" stroke-width="3.33"/>
<text x="1502.90" y="837.23" font-size="41.67" fill="#000" text-anchor="start" textLength="65.27" lengthAdjust="spacing" xml:space="preserve">0.0</text>
<line x1="1474.10" y1="884.10" x2="1489.40" y2="884.10" stroke="#000" stroke-width="3.33"/>
<text x="1502.90" y="898.30" font-size="41.67" fill="#000" text-anchor="start" textLength="99.66" lengthAdjust="spacing" xml:space="preserve">−0.5</text>
<line x1="1474.10" y1="945.17" x2="1489.40" y2="945.17" stroke="#000" stroke-width="3.33"/>
<text x="1502.90" y="959.37" font-size="41.67" fill="#000" text-anchor="start" textLength="99.66" lengthAdjust="spacing" xml:space="preserve">−1.0</text>
<line x1="1474.10" y1="1006.23" x2="1489.40" y2="1006.23" stroke="#000" stroke-width="3.33"/>
<text x="1502.90" y="1020.43" font-size="41.67" fill="#000" text-anchor="start" textLength="99.66" lengthAdjust="spacing" xml:space="preserve">−1.5</text>
<line x1="1474.10" y1="1067.30" x2="1489.40" y2="1067.30" stroke="#000" stroke-width="3.33"/>
<text x="1502.90" y="1081.50" font-size="41.67" fill="#000" text-anchor="start" textLength="99.66" lengthAdjust="spacing" xml:space="preserve">−2.0</text>
<line x1="1474.10" y1="1128.37" x2="1489.40" y2="1128.37" stroke="#000" stroke-width="3.33"/>
<text x="1502.90" y="1142.57" font-size="41.67" fill="#000" text-anchor="start" textLength="99.66" lengthAdjust="spacing" xml:space="preserve">−2.5</text>
<line x1="1474.10" y1="1189.43" x2="1489.40" y2="1189.43" stroke="#000" stroke-width="3.33"/>
<text x="1502.90" y="1203.63" font-size="41.67" fill="#000" text-anchor="start" textLength="99.66" lengthAdjust="spacing" xml:space="preserve">−3.0</text>
<line x1="1474.10" y1="1250.50" x2="1489.40" y2="1250.50" stroke="#000" stroke-width="3.33"/>
<text x="1502.90" y="1264.70" font-size="41.67" fill="#000" text-anchor="start" textLength="99.66" lengthAdjust="spacing" xml:space="preserve">−3.5</text>
</svg></body></html>
